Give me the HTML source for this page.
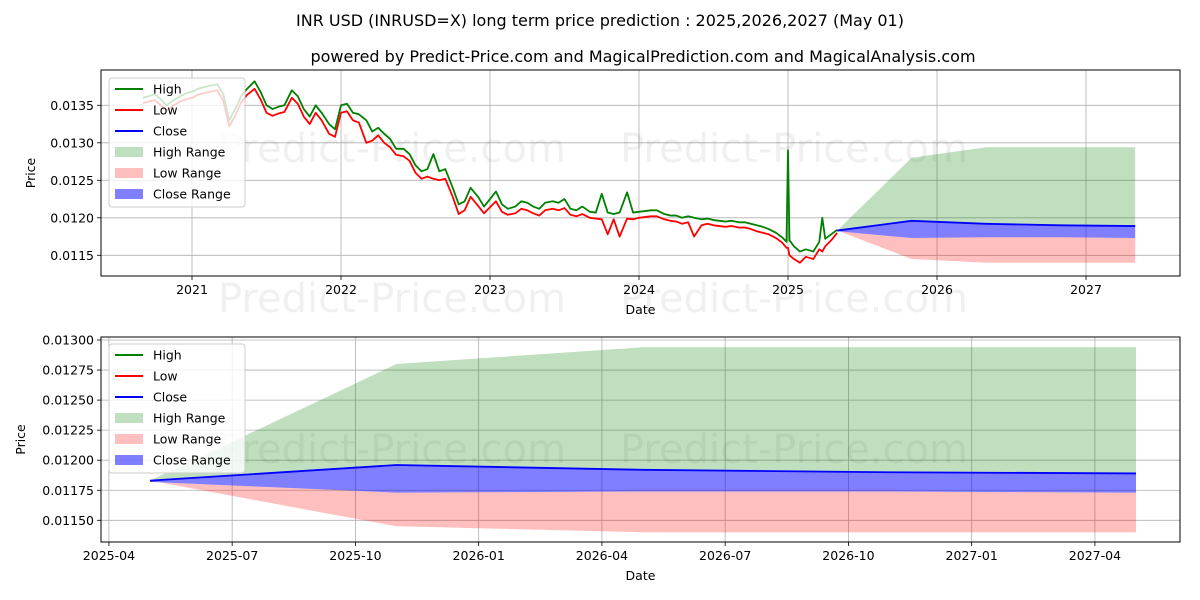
<!DOCTYPE html>
<html><head><meta charset="utf-8"><style>
html,body{margin:0;padding:0;background:#fff;width:1200px;height:600px;overflow:hidden}
svg text{font-family:"DejaVu Sans","Liberation Sans",sans-serif}
</style></head><body>
<svg id="chart" width="1200" height="600" xmlns="http://www.w3.org/2000/svg">
<text x="600" y="26" font-size="16" text-anchor="middle">INR USD (INRUSD=X) long term price prediction : 2025,2026,2027 (May 01)</text>
<text x="643" y="62" font-size="16" text-anchor="middle">powered by Predict-Price.com and MagicalPrediction.com and MagicalAnalysis.com</text>
<g id="top"></g>
<g id="bot"></g>
</svg>
<script>
// Historical data (fractional year)
const histT = [2020.67,2020.71,2020.75,2020.79,2020.83,2020.87,2020.92,2020.96,
2021.00,2021.04,2021.08,2021.12,2021.17,2021.21,2021.25,2021.29,2021.33,2021.37,2021.42,2021.46,2021.50,2021.54,2021.58,2021.62,2021.67,2021.71,2021.75,2021.79,2021.83,2021.87,2021.92,2021.96,
2022.00,2022.04,2022.08,2022.12,2022.17,2022.21,2022.25,2022.29,2022.33,2022.37,2022.42,2022.46,2022.50,2022.54,2022.58,2022.62,2022.66,2022.70,2022.75,2022.79,2022.83,2022.87,2022.92,2022.96,
2023.00,2023.04,2023.08,2023.12,2023.17,2023.21,2023.25,2023.29,2023.33,2023.37,2023.42,2023.46,2023.50,2023.54,2023.58,2023.62,2023.67,2023.71,2023.75,2023.79,2023.83,2023.87,2023.92,2023.96,
2024.00,2024.04,2024.08,2024.12,2024.17,2024.21,2024.25,2024.29,2024.33,2024.37,2024.42,2024.46,2024.50,2024.54,2024.58,2024.62,2024.67,2024.71,2024.75,2024.79,2024.83,2024.87,2024.92,2024.96,2024.99,
2025.00,2025.01,2025.04,2025.08,2025.12,2025.17,2025.21,2025.23,2025.25,2025.29,2025.33];
const histHigh = [0.01360,0.01362,0.01365,0.01358,0.01350,0.01356,0.01362,0.01366,
0.01368,0.01372,0.01374,0.01376,0.01378,0.01365,0.01330,0.01345,0.01362,0.01372,0.01382,0.01368,0.01350,0.01345,0.01348,0.01350,0.01370,0.01362,0.01345,0.01335,0.01350,0.01340,0.01325,0.01318,
0.01350,0.01352,0.01340,0.01338,0.01330,0.01315,0.01320,0.01312,0.01305,0.01292,0.01292,0.01285,0.01270,0.01262,0.01265,0.01285,0.01262,0.01265,0.01240,0.01218,0.01222,0.01240,0.01228,0.01215,
0.01225,0.01235,0.01218,0.01212,0.01215,0.01222,0.01220,0.01215,0.01212,0.01220,0.01222,0.01220,0.01225,0.01212,0.01210,0.01215,0.01208,0.01207,0.01232,0.01207,0.01205,0.01207,0.01234,0.01207,
0.01208,0.01209,0.01210,0.01210,0.01205,0.01203,0.01203,0.01200,0.01202,0.01200,0.01198,0.01199,0.01197,0.01196,0.01195,0.01196,0.01194,0.01194,0.01192,0.01190,0.01188,0.01185,0.01180,0.01174,0.01168,
0.01290,0.01170,0.01162,0.01155,0.01158,0.01155,0.01168,0.01200,0.01172,0.01178,0.01184];
const histLow = [0.01353,0.01355,0.01357,0.01350,0.01343,0.01349,0.01355,0.01358,
0.01360,0.01364,0.01366,0.01368,0.01370,0.01356,0.01322,0.01336,0.01354,0.01364,0.01372,0.01358,0.01340,0.01336,0.01339,0.01341,0.01360,0.01352,0.01335,0.01325,0.01340,0.01330,0.01312,0.01308,
0.01340,0.01342,0.01330,0.01327,0.01300,0.01303,0.01310,0.01300,0.01294,0.01284,0.01282,0.01276,0.01260,0.01252,0.01255,0.01252,0.01250,0.01252,0.01228,0.01205,0.01210,0.01228,0.01216,0.01206,
0.01214,0.01222,0.01208,0.01204,0.01206,0.01212,0.01210,0.01206,0.01203,0.01210,0.01212,0.01210,0.01213,0.01204,0.01202,0.01205,0.01200,0.01199,0.01198,0.01178,0.01198,0.01175,0.01199,0.01198,
0.01200,0.01201,0.01202,0.01202,0.01198,0.01196,0.01195,0.01192,0.01194,0.01175,0.01190,0.01192,0.01190,0.01189,0.01188,0.01189,0.01187,0.01187,0.01185,0.01182,0.01180,0.01178,0.01173,0.01167,0.01160,
0.01160,0.01150,0.01145,0.01140,0.01148,0.01145,0.01158,0.01155,0.01162,0.01170,0.01180];
// Forecast data (months after 2025-05-01)
const fcMonths = [0,6,12,18,24];
const fcHigh = [0.01183,0.01280,0.01294,0.01294,0.01294];
const fcLow = [0.01183,0.01145,0.01140,0.01140,0.01140];
const fcClose = [0.01183,0.01196,0.01192,0.01190,0.01189];
const fcCloseLow = [0.01182,0.01173,0.01174,0.01174,0.01173];
const topYTicks = [0.0115,0.0120,0.0125,0.0130,0.0135];
const topXTicks = [2021,2022,2023,2024,2025,2026,2027];
const botYTicks = [0.0115,0.01175,0.012,0.01225,0.0125,0.01275,0.013];
const botXLabels = ["2025-04","2025-07","2025-10","2026-01","2026-04","2026-07","2026-10","2027-01","2027-04"];
const botXMonths = [-1,2,5,8,11,14,17,20,23];

const NS="http://www.w3.org/2000/svg";
function mk(parent,tag,attrs,text){const e=document.createElementNS(NS,tag);for(const k in attrs)e.setAttribute(k,attrs[k]);if(text!==undefined)e.textContent=text;parent.appendChild(e);return e;}

function panel(g,box,xs,ys,xticks,yticks,xlab,fmt,series){
  mk(g,'rect',{x:box.l,y:box.t,width:box.r-box.l,height:box.b-box.t,fill:'#fff'});
  xticks.forEach(t=>{const x=xs(t.v);const l=mk(g,'line',{x1:x,x2:x,y1:box.t,y2:box.b,stroke:'#b0b0b0','stroke-width':0.8});
    
    mk(g,'line',{x1:x,x2:x,y1:box.b,y2:box.b+4,stroke:'#000','stroke-width':0.8});
    const tx=mk(g,'text',{x:x,y:box.b+18,'font-size':12.5,'text-anchor':'middle'},t.s);
    });
  yticks.forEach(v=>{const y=ys(v);const l=mk(g,'line',{x1:box.l,x2:box.r,y1:y,y2:y,stroke:'#b0b0b0','stroke-width':0.8});
    
    mk(g,'line',{x1:box.l-4,x2:box.l,y1:y,y2:y,stroke:'#000','stroke-width':0.8});
    const tx=mk(g,'text',{x:box.l-7,y:y+4.5,'font-size':12.5,'text-anchor':'end'},fmt(v));
    });
  series(g);
  const ax=mk(g,'rect',{x:box.l,y:box.t,width:box.r-box.l,height:box.b-box.t,fill:'none',stroke:'#000','stroke-width':1});
  
  const xl=mk(g,'text',{x:(box.l+box.r)/2,y:box.b+38,'font-size':12.5,'text-anchor':'middle'},xlab);
  
  const yl=mk(g,'text',{x:0,y:0,'font-size':12.5,'text-anchor':'middle',transform:`translate(${box.yl},${(box.t+box.b)/2}) rotate(-90)`},'Price');
  
}
function wm(g,x,y){const t=mk(g,'text',{x:x,y:y,'font-size':40,fill:'#000','fill-opacity':0.06},'Predict-Price.com');
  }
function legend(g,x,y,w){
  const r=mk(g,'rect',{x:x,y:y,width:w,height:129,fill:'#fff','fill-opacity':0.8,stroke:'#ccc',rx:3});
  
  const items=[['High','line','#008000'],['Low','line','#ff0000'],['Close','line','#0000ff'],['High Range','patch','rgba(0,128,0,0.25)'],['Low Range','patch','rgba(255,0,0,0.25)'],['Close Range','patch','rgba(0,0,255,0.5)']];
  items.forEach((it,i)=>{const yy=y+11+i*21;
    if(it[1]=='line')mk(g,'line',{x1:x+6,x2:x+34,y1:yy,y2:yy,stroke:it[2],'stroke-width':2});
    else mk(g,'rect',{x:x+6,y:yy-5,width:28,height:10,fill:it[2]});
    const t=mk(g,'text',{x:x+44,y:yy+4.5,'font-size':12.5},it[0]);
    });
}
function poly(g,xsArr,ysArr,fill,name){const p=mk(g,'polygon',{points:xsArr.map((x,i)=>x+','+ysArr[i]).join(' '),fill:fill});
  return p;}
function pl(g,xsArr,ysArr,color,w,name){const p=mk(g,'polyline',{points:xsArr.map((x,i)=>x+','+ysArr[i]).join(' '),fill:'none',stroke:color,'stroke-width':w,'stroke-linejoin':'round'});
  return p;}

// TOP
const tb={l:101,r:1180,t:70,b:276,yl:35};
const txs=yr=>192+(yr-2021)*149;
const tys=v=>105.3+(0.0135-v)/0.0005*37.5;
const fcYr=m=>2025.33+m/12;
const topG=document.getElementById('top');
panel(topG,tb,txs,tys,topXTicks.map(v=>({v:v,s:String(v)})),topYTicks,'Date',v=>v.toFixed(4),g=>{
  wm(g,218,162);wm(g,620,162);wm(g,218,312);wm(g,620,312);
  const fx=fcMonths.map(m=>txs(fcYr(m)));
  poly(g,fx.concat(fx.slice().reverse()),fcHigh.map(tys).concat(fcClose.map(tys).reverse()),'rgba(0,128,0,0.25)','high-range-area');
  poly(g,fx.concat(fx.slice().reverse()),fcLow.map(tys).concat(fcCloseLow.map(tys).reverse()),'rgba(255,0,0,0.25)','low-range-area');
  poly(g,fx.concat(fx.slice().reverse()),fcClose.map(tys).concat(fcCloseLow.map(tys).reverse()),'rgba(0,0,255,0.5)','close-range-area');
  pl(g,histT.map(txs),histHigh.map(tys),'#008000',1.8,'high-line');
  pl(g,histT.map(txs),histLow.map(tys),'#ff0000',1.8,'low-line');
  pl(g,fx,fcClose.map(tys),'#0000ff',1.8,'close-line');
});
legend(topG,109,78,136);

// BOTTOM
const bb={l:101,r:1180,t:337,b:542,yl:25};
const bxs=m=>150+m*(986/24);
const bys=v=>340+(0.013-v)/0.00025*30.05;
const botG=document.getElementById('bot');
panel(botG,bb,bxs,bys,botXMonths.map((m,i)=>({v:m,s:botXLabels[i]})),botYTicks,'Date',v=>v.toFixed(5),g=>{
  wm(g,218,463);wm(g,620,463);
  const fx=fcMonths.map(bxs);
  poly(g,fx.concat(fx.slice().reverse()),fcHigh.map(bys).concat(fcClose.map(bys).reverse()),'rgba(0,128,0,0.25)','high-range-area');
  poly(g,fx.concat(fx.slice().reverse()),fcLow.map(bys).concat(fcCloseLow.map(bys).reverse()),'rgba(255,0,0,0.25)','low-range-area');
  poly(g,fx.concat(fx.slice().reverse()),fcClose.map(bys).concat(fcCloseLow.map(bys).reverse()),'rgba(0,0,255,0.5)','close-range-area');
  pl(g,fx,fcClose.map(bys),'#0000ff',1.8,'close-line');
});
legend(botG,109,344,136);
</script>
</body></html>
